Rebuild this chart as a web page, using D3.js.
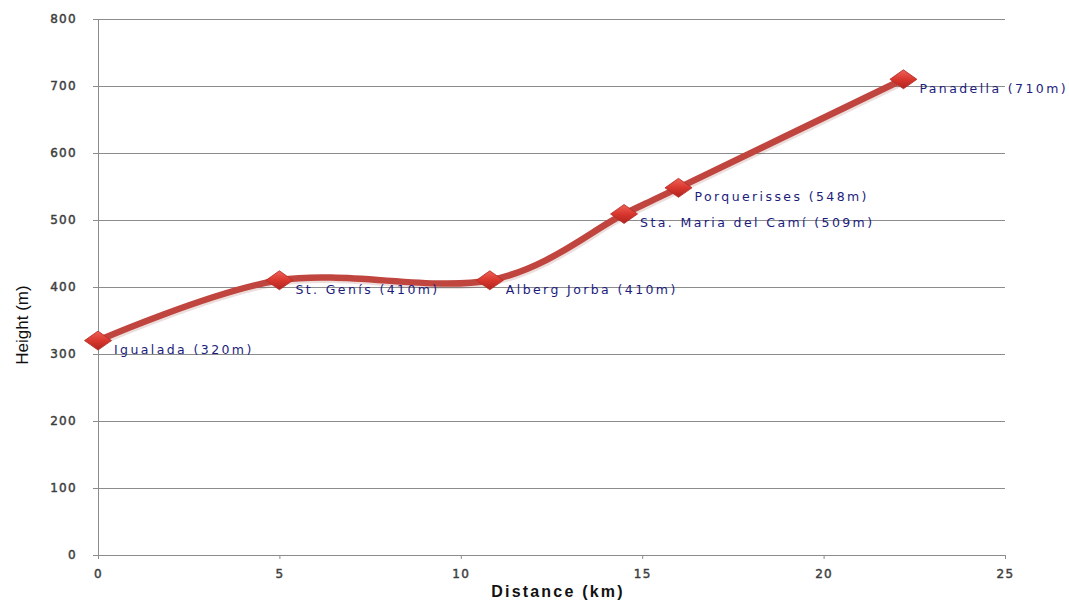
<!DOCTYPE html>
<html>
<head>
<meta charset="utf-8">
<script src="https://cdn.jsdelivr.net/npm/d3@7"></script>
<style>
  html, body { margin: 0; padding: 0; background: #fff; }
  svg { display: block; }
</style>
</head>
<body>
<svg id="chart" width="1069" height="601"></svg>
<script>
// Route profile: distance along the route (km) and height above sea level (m)
const places    = ["Igualada", "St. Genís", "Alberg Jorba", "Sta. Maria del Camí", "Porquerisses", "Panadella"];
const distances = [0, 5, 10.8, 14.5, 16.0, 22.2];
const heights   = [320, 410, 410, 509, 548, 710];
const xTicks = [0, 5, 10, 15, 20, 25];
const yTicks = [0, 100, 200, 300, 400, 500, 600, 700, 800];

const points = places.map((p, i) => ({ name: p, x: distances[i], y: heights[i] }));

const svg = d3.select("#chart");
const margin = { left: 98, right: 64, top: 19, bottom: 46 };
const W = 1069, H = 601;

const x = d3.scaleLinear().domain([0, 25]).range([margin.left, W - margin.right]);
const y = d3.scaleLinear().domain([0, 800]).range([H - margin.bottom, margin.top]);

const defs = svg.append("defs");
const grad = defs.append("linearGradient").attr("id", "diamondFill")
  .attr("x1", "0").attr("y1", "0").attr("x2", "0").attr("y2", "1");
grad.append("stop").attr("offset", "0%").attr("stop-color", "#ee6258");
grad.append("stop").attr("offset", "50%").attr("stop-color", "#d8372e");
grad.append("stop").attr("offset", "100%").attr("stop-color", "#b0241e");

// Horizontal gridlines
svg.append("g")
  .selectAll("line")
  .data(yTicks)
  .join("line")
  .attr("x1", x(0)).attr("x2", x(25))
  .attr("y1", d => y(d)).attr("y2", d => y(d))
  .attr("stroke", "#8c8c8c").attr("stroke-width", 1)
  .attr("shape-rendering", "crispEdges");

const tickFont = sel => sel
  .attr("font-family", "DejaVu Sans, Verdana, sans-serif")
  .attr("font-size", 12).attr("fill", "#3d3d3d")
  .attr("stroke", "#3d3d3d").attr("stroke-width", 0.45)
  .attr("letter-spacing", 1.3);

// Y axis
const yAxis = svg.append("g")
  .attr("transform", `translate(${x(0)},0)`)
  .call(d3.axisLeft(y).tickValues(yTicks).tickSize(5).tickPadding(16).tickSizeOuter(0));
yAxis.select(".domain").attr("stroke", "#8c8c8c");
yAxis.selectAll(".tick line").attr("stroke", "#8c8c8c");
yAxis.selectAll("text").call(tickFont);

// X axis
const xAxis = svg.append("g")
  .attr("transform", `translate(0,${y(0)})`)
  .call(d3.axisBottom(x).tickValues(xTicks).tickSize(4).tickPadding(10).tickSizeOuter(0));
xAxis.select(".domain").attr("stroke", "#8c8c8c");
xAxis.selectAll(".tick line").attr("stroke", "#8c8c8c");
xAxis.selectAll("text").call(tickFont);

// Axis titles
svg.append("text")
  .attr("x", 558).attr("y", 597)
  .attr("text-anchor", "middle")
  .attr("font-family", "Liberation Sans, Arial, sans-serif")
  .attr("font-weight", "bold").attr("font-size", 16).attr("fill", "#111")
  .attr("letter-spacing", 2.2)
  .text("Distance (km)");

svg.append("text")
  .attr("transform", "translate(28,325) rotate(-90)")
  .attr("text-anchor", "middle")
  .attr("font-family", "Liberation Sans Narrow, Liberation Sans, Arial, sans-serif")
  .attr("font-size", 17).attr("fill", "#111")
  .text("Height (m)");

// Smoothed profile line
const line = d3.line()
  .x(d => x(d.x)).y(d => y(d.y))
  .curve(d3.curveCardinal.tension(0));

svg.append("path")
  .datum(points)
  .attr("d", line)
  .attr("fill", "none")
  .attr("stroke", "#7a1f1c").attr("stroke-opacity", 0.15)
  .attr("stroke-width", 7)
  .attr("transform", "translate(1,2)");

svg.append("path")
  .datum(points)
  .attr("d", line)
  .attr("fill", "none")
  .attr("stroke", "#c0453f")
  .attr("stroke-width", 6.5)
  .attr("stroke-linecap", "round");

// Flattened diamond markers, 27px wide and 19px tall
const flatDiamond = {
  draw(ctx) {
    ctx.moveTo(0, -9.5);
    ctx.lineTo(13.5, 0);
    ctx.lineTo(0, 9.5);
    ctx.lineTo(-13.5, 0);
    ctx.closePath();
  }
};
svg.append("g")
  .selectAll("path")
  .data(points)
  .join("path")
  .attr("transform", d => `translate(${x(d.x)},${y(d.y)})`)
  .attr("d", d3.symbol().type(flatDiamond))
  .attr("fill", "url(#diamondFill)")
  .attr("stroke", "#b22a23").attr("stroke-width", 0.8);

// Place labels
svg.append("g")
  .selectAll("text")
  .data(points)
  .join("text")
  .attr("x", d => x(d.x) + 16)
  .attr("y", d => y(d.y) + 9)
  .attr("dy", "0.35em")
  .attr("font-family", "DejaVu Sans, Verdana, sans-serif")
  .attr("font-size", 12.5)
  .attr("letter-spacing", 2.4)
  .attr("fill", "#1c1c7c")
  .text(d => `${d.name} (${d.y}m)`);
</script>
</body>
</html>
